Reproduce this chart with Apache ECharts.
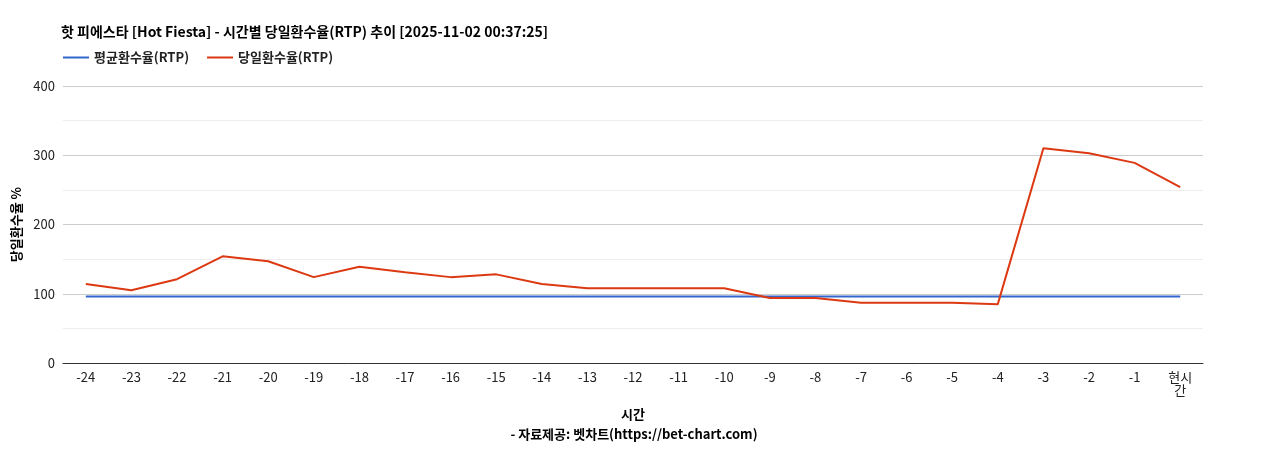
<!DOCTYPE html>
<html><head><meta charset="utf-8">
<script src="https://cdn.jsdelivr.net/npm/echarts@6/dist/echarts.min.js"></script>
<style>body{margin:0}#c{width:1268px;height:450px}</style></head>
<body><div id="c"></div>
<script>
const categories=['-24','-23','-22','-21','-20','-19','-18','-17','-16','-15','-14','-13','-12','-11','-10','-9','-8','-7','-6','-5','-4','-3','-2','-1','현시간'];
const avgRTP=[96,96,96,96,96,96,96,96,96,96,96,96,96,96,96,96,96,96,96,96,96,96,96,96,96];
const dailyRTP=[114,105,121,154,147,124,139,131,124,128,114,108,108,108,108,94,94,87,87,87,85,310,303,289,254];
const F='Noto Sans CJK KR, Noto Sans, sans-serif';
const chart=echarts.init(document.getElementById('c'));
chart.setOption({
 textStyle:{fontFamily:F},
 title:{text:'핫 피에스타 [Hot Fiesta] - 시간별 당일환수율(RTP) 추이 [2025-11-02 00:37:25]',left:56,top:20,textStyle:{fontSize:14,fontWeight:'bold',color:'#000',fontFamily:F}},
 legend:{left:58,top:46,itemWidth:26,itemHeight:2,itemGap:18,icon:'rect',textStyle:{fontSize:13,fontWeight:'bold',color:'#222',fontFamily:F},data:['평균환수율(RTP)','당일환수율(RTP)']},
 grid:{left:63,right:65,top:86,bottom:87},
 xAxis:{type:'category',data:categories,boundaryGap:true,name:'시간',nameLocation:'middle',nameGap:45,
  nameTextStyle:{fontSize:13,fontWeight:'bold',color:'#000'},
  axisLine:{lineStyle:{color:'#333'}},axisTick:{show:false},
  axisLabel:{fontSize:13,color:'#222',interval:0,formatter:v=>v==='현시간'?'현시\n간':v}},
 yAxis:{type:'value',min:0,max:400,interval:100,name:'당일환수율 %',nameLocation:'middle',nameGap:40,
  nameTextStyle:{fontSize:13,fontWeight:'bold',color:'#000'},
  axisLabel:{fontSize:13,color:'#222'},axisLine:{show:false},
  splitLine:{lineStyle:{color:'#ccc'}},minorTick:{show:false,splitNumber:2},minorSplitLine:{show:true,lineStyle:{color:'#eee'}}},
 graphic:[{type:'text',left:'center',top:428,style:{text:'- 자료제공: 벳차트(https://bet-chart.com)',font:'bold 13px '+F,fill:'#000'}}],
 series:[
  {name:'평균환수율(RTP)',type:'line',data:avgRTP,symbol:'none',lineStyle:{width:2,color:'#3366cc'},itemStyle:{color:'#3366cc'}},
  {name:'당일환수율(RTP)',type:'line',data:dailyRTP,symbol:'none',lineStyle:{width:2,color:'#dc3912'},itemStyle:{color:'#dc3912'}}
 ]
});
</script></body></html>
